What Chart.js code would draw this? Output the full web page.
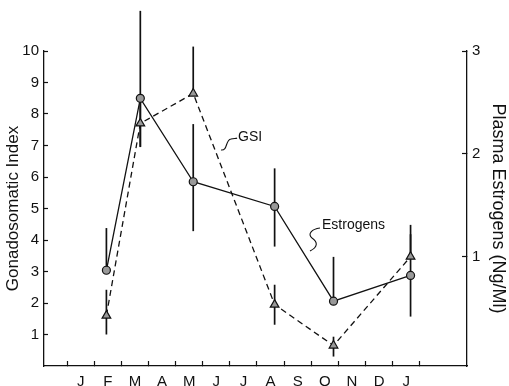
<!DOCTYPE html>
<html>
<head>
<meta charset="utf-8">
<script src="https://cdn.jsdelivr.net/npm/chart.js@4.4.1/dist/chart.umd.min.js"></script>
<style>
  html, body { margin: 0; padding: 0; background: #ffffff; }
  #wrap { width: 509px; height: 386px; }
</style>
</head>
<body>
<div id="wrap"><canvas id="c" width="509" height="386"></canvas></div>
<script>
// ---- data ----
const monthLabels = ['J','F','M','A','M','J','J','A','S','O','N','D','J'];
const sampleX = [0.95, 2.2, 4.15, 7.15, 9.32, 12.16];      // month position of each sample
const gsi = [1.6, 7.7, 8.65, 1.95, 0.65, 3.47];            // Gonadosomatic Index (left axis)
const gsiErrUp = [0.82, 0.75, 1.49, 0.63, 0.28, 1.01];
const gsiErrDown = [0.6, 0.75, 0, 0.64, 0.35, 0];
const estrogens = [0.87, 2.54, 1.73, 1.49, 0.57, 0.82];   // Plasma estrogens, Ng/Ml (right axis)
const estErrUp = [0.41, 0.85, 0.56, 0.37, 0.43, 0.40];
const estErrDown = [0, 0.47, 0.48, 0.39, 0, 0.40];
const gsiTicks = [1,2,3,4,5,6,7,8,9,10];
const estTicks = [1,2,3];

const FONT = '"Liberation Sans", Arial, sans-serif';

const errorBars = {
  id: 'errorBars',
  beforeDatasetsDraw(chart) {
    const ctx = chart.ctx;
    chart.data.datasets.forEach((ds, di) => {
      const meta = chart.getDatasetMeta(di);
      const scale = chart.scales[ds.yAxisID];
      ctx.save();
      ctx.strokeStyle = '#111';
      ctx.lineWidth = 1.7;
      meta.data.forEach((pt, i) => {
        const v = ds.data[i].y;
        const top = scale.getPixelForValue(v + ds.errUp[i]);
        const bot = scale.getPixelForValue(v - ds.errDown[i]);
        ctx.beginPath();
        ctx.moveTo(pt.x, top);
        ctx.lineTo(pt.x, bot);
        ctx.stroke();
      });
      ctx.restore();
    });
  }
};

const labels = {
  id: 'labels',
  afterDatasetsDraw(chart) {
    const ctx = chart.ctx;
    ctx.save();
    ctx.fillStyle = '#111';
    ctx.strokeStyle = '#111';
    ctx.lineWidth = 1.1;
    ctx.font = '14px ' + FONT;
    ctx.textBaseline = 'middle';
    ctx.textAlign = 'left';
    ctx.fillText('GSI', 238, 137);
    ctx.fillText('Estrogens', 322, 225);
    // leader squiggles
    ctx.beginPath();
    ctx.moveTo(221, 150);
    ctx.bezierCurveTo(228, 151, 225, 140, 231, 139);
    ctx.bezierCurveTo(234, 138, 236, 139, 237, 138);
    ctx.stroke();
    ctx.beginPath();
    ctx.moveTo(310, 251);
    ctx.bezierCurveTo(318, 247, 318, 242, 312, 238);
    ctx.bezierCurveTo(307, 234, 312, 229, 320, 228);
    ctx.stroke();
    ctx.restore();
  }
};

new Chart(document.getElementById('c'), {
  type: 'line',
  data: {
    datasets: [
      {
        label: 'Estrogens',
        data: sampleX.map((x, i) => ({ x: x, y: estrogens[i] })),
        errUp: estErrUp, errDown: estErrDown,
        yAxisID: 'y1',
        borderColor: '#111', borderWidth: 1.3,
        pointStyle: 'circle', pointRadius: 4,
        pointBackgroundColor: '#999999', pointBorderColor: '#111', pointBorderWidth: 1.2,
        tension: 0, clip: false
      },
      {
        label: 'GSI',
        data: sampleX.map((x, i) => ({ x: x, y: gsi[i] })),
        errUp: gsiErrUp, errDown: gsiErrDown,
        yAxisID: 'y',
        borderColor: '#111', borderWidth: 1.3, borderDash: [6, 4],
        pointStyle: 'triangle', pointRadius: 5,
        pointBackgroundColor: '#999999', pointBorderColor: '#111', pointBorderWidth: 1.2,
        tension: 0, clip: false
      }
    ]
  },
  options: {
    responsive: false,
    animation: false,
    layout: { padding: { top: 51, left: 0, right: 0, bottom: 0 } },
    plugins: { legend: { display: false }, tooltip: { enabled: false } },
    scales: {
      x: {
        type: 'linear', position: 'bottom', min: -1.35, max: 14.24,
        afterBuildTicks: s => { s.ticks = monthLabels.map((m, i) => ({ value: i })); },
        ticks: {
          autoSkip: false, maxRotation: 0, padding: 12, color: '#111',
          font: { family: FONT, size: 15 },
          callback: (v, i) => monthLabels[i]
        },
        grid: { drawOnChartArea: false, offset: true, tickLength: -5, tickColor: '#111', tickWidth: 1.2 },
        border: { color: '#111', width: 1.3 },
        afterFit: s => { s.height = 20; }
      },
      y: {
        position: 'left', min: 0, max: 10,
        afterBuildTicks: s => { s.ticks = gsiTicks.map(v => ({ value: v })); },
        ticks: { padding: 9, color: '#111', font: { family: FONT, size: 15 } },
        grid: { drawOnChartArea: false, tickLength: -4, tickColor: '#111', tickWidth: 1.2 },
        border: { color: '#111', width: 1.3 },
        title: { display: true, text: 'Gonadosomatic Index', color: '#111',
                 font: { family: FONT, size: 17 }, padding: { top: 3, bottom: 0 } },
        afterFit: s => { s.width = 44; }
      },
      y1: {
        position: 'right', min: -0.06, max: 3,
        afterBuildTicks: s => { s.ticks = estTicks.map(v => ({ value: v })); },
        ticks: { padding: 10, color: '#111', font: { family: FONT, size: 15 } },
        grid: { drawOnChartArea: false, tickLength: -5, tickColor: '#111', tickWidth: 1.2 },
        border: { color: '#111', width: 1.3 },
        title: { display: true, text: 'Plasma Estrogens (Ng/Ml)', color: '#111',
                 font: { family: FONT, size: 18 }, padding: { top: 0, bottom: 0 } },
        afterFit: s => { s.width = 42; }
      }
    }
  },
  plugins: [errorBars, labels]
});
</script>
</body>
</html>
